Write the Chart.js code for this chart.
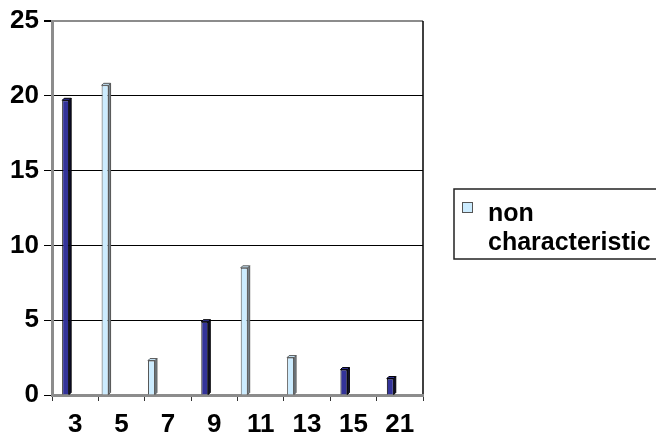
<!DOCTYPE html>
<html>
<head>
<meta charset="utf-8">
<script src="https://cdn.jsdelivr.net/npm/chart.js@4/dist/chart.umd.min.js"></script>
<style>
  html, body { margin: 0; padding: 0; background: #fff; }
  #wrap { width: 656px; height: 440px; position: relative; }
</style>
</head>
<body>
<div id="wrap"><canvas id="c"></canvas></div>
<script>
// Categories along the x axis
const categories = ['3', '5', '7', '9', '11', '13', '15', '21'];
// Series values (null where a series has no column)
const nonCharacteristic = [null, 20.7, 2.3, null, 8.5, 2.5, null, null];
const characteristic    = [19.7, null, null, 4.9, null, null, 1.7, 1.1];
// Value axis
const yMin = 0, yMax = 25, yStep = 5;

const FONT = '"Liberation Sans", Arial, sans-serif';
const DEPTH = 2;        // depth of the pseudo-3D column faces
const SHIFT = -13;      // columns sit toward the front-left of each category slot

// Pseudo-3D faces on the columns (side and top), drawn from the bar elements
const columns3d = {
  id: 'columns3d',
  beforeDatasetsDraw(chart) {
    chart.ctx.save();
    chart.ctx.translate(SHIFT, 0);
  },
  afterDatasetsDraw(chart) {
    const ctx = chart.ctx;
    chart.data.datasets.forEach((ds, di) => {
      const meta = chart.getDatasetMeta(di);
      meta.data.forEach((bar, i) => {
        if (ds.data[i] == null) return;
        const p = bar.getProps(['x', 'y', 'base', 'width'], true);
        const l = p.x - p.width / 2, r = p.x + p.width / 2;
        const t = p.y, b = p.base;
        ctx.lineWidth = 1;
        ctx.strokeStyle = ds.borderColor;
        // side face
        ctx.fillStyle = ds.sideColor;
        ctx.beginPath();
        ctx.moveTo(r, b);
        ctx.lineTo(r, t);
        ctx.lineTo(r + DEPTH, t - DEPTH);
        ctx.lineTo(r + DEPTH, b - DEPTH);
        ctx.closePath();
        ctx.fill();
        ctx.stroke();
        // top face
        ctx.fillStyle = ds.backgroundColor;
        ctx.beginPath();
        ctx.moveTo(l, t);
        ctx.lineTo(l + DEPTH, t - DEPTH);
        ctx.lineTo(r + DEPTH, t - DEPTH);
        ctx.lineTo(r, t);
        ctx.closePath();
        ctx.fill();
        ctx.stroke();
      });
    });
    ctx.restore();
  },
  afterDraw(chart) {
    // right wall edge
    const ctx = chart.ctx, a = chart.chartArea;
    ctx.save();
    ctx.strokeStyle = '#000';
    ctx.lineWidth = 1.5;
    ctx.beginPath();
    ctx.moveTo(a.right, a.top);
    ctx.lineTo(a.right, a.bottom - 1);
    ctx.stroke();
    ctx.restore();
  }
};

// Boxed legend on the right, showing the first series
const boxLegend = {
  id: 'boxLegend',
  afterDraw(chart) {
    const ctx = chart.ctx;
    const ds = chart.data.datasets[0];
    ctx.save();
    ctx.strokeStyle = '#222';
    ctx.lineWidth = 1.5;
    ctx.strokeRect(454, 189, 260, 70);
    ctx.fillStyle = ds.backgroundColor;
    ctx.fillRect(462, 202, 10, 10);
    ctx.strokeStyle = '#555';
    ctx.lineWidth = 1;
    ctx.strokeRect(462.5, 202.5, 10, 10);
    ctx.fillStyle = '#000';
    ctx.font = 'bold 25px ' + FONT;
    ctx.textBaseline = 'alphabetic';
    ctx.textAlign = 'left';
    const words = ds.label.split(' ');
    ctx.fillText(words[0], 488, 221);
    ctx.fillText(words.slice(1).join(' '), 488, 250);
    ctx.restore();
  }
};

new Chart(document.getElementById('c'), {
  type: 'bar',
  data: {
    labels: categories,
    datasets: [
      {
        label: 'non characteristic',
        data: nonCharacteristic,
        backgroundColor: '#CCECFF',
        borderColor: '#555555',
        sideColor: '#7d8b95',
        borderWidth: 1
      },
      {
        label: 'characteristic',
        data: characteristic,
        backgroundColor: '#333399',
        borderColor: '#000000',
        sideColor: '#111133',
        borderWidth: 1
      }
    ]
  },
  options: {
    responsive: true,
    maintainAspectRatio: false,
    animation: false,
    layout: { padding: { top: 21, right: 233, left: 0, bottom: 0 } },
    datasets: { bar: { barPercentage: 1, categoryPercentage: 0.30 } },
    plugins: {
      legend: { display: false },
      tooltip: { enabled: false }
    },
    scales: {
      x: {
        offset: true,
        afterFit(s) { s.height = 45; },
        grid: {
          offset: true,
          drawOnChartArea: false,
          drawTicks: true,
          tickLength: 6,
          color: '#333'
        },
        border: { display: true, color: '#8c8c8c', width: 3 },
        ticks: {
          color: '#000',
          padding: 8,
          maxRotation: 0,
          font: { family: FONT, size: 26, weight: 'bold' }
        }
      },
      y: {
        min: yMin,
        max: yMax,
        afterFit(s) { s.width = 52; },
        grid: {
          tickLength: 8,
          tickColor: '#000',
          color: (c) => (c.tick && (c.tick.value === yMax || c.tick.value === yMin)) ? '#8c8c8c' : '#000',
          lineWidth: (c) => (c.tick && c.tick.value === yMax) ? 2 : 1
        },
        border: { display: true, color: '#8c8c8c', width: 3 },
        ticks: {
          stepSize: yStep,
          color: '#000',
          padding: 5,
          font: { family: FONT, size: 26, weight: 'bold' }
        }
      }
    }
  },
  plugins: [columns3d, boxLegend]
});
</script>
</body>
</html>
